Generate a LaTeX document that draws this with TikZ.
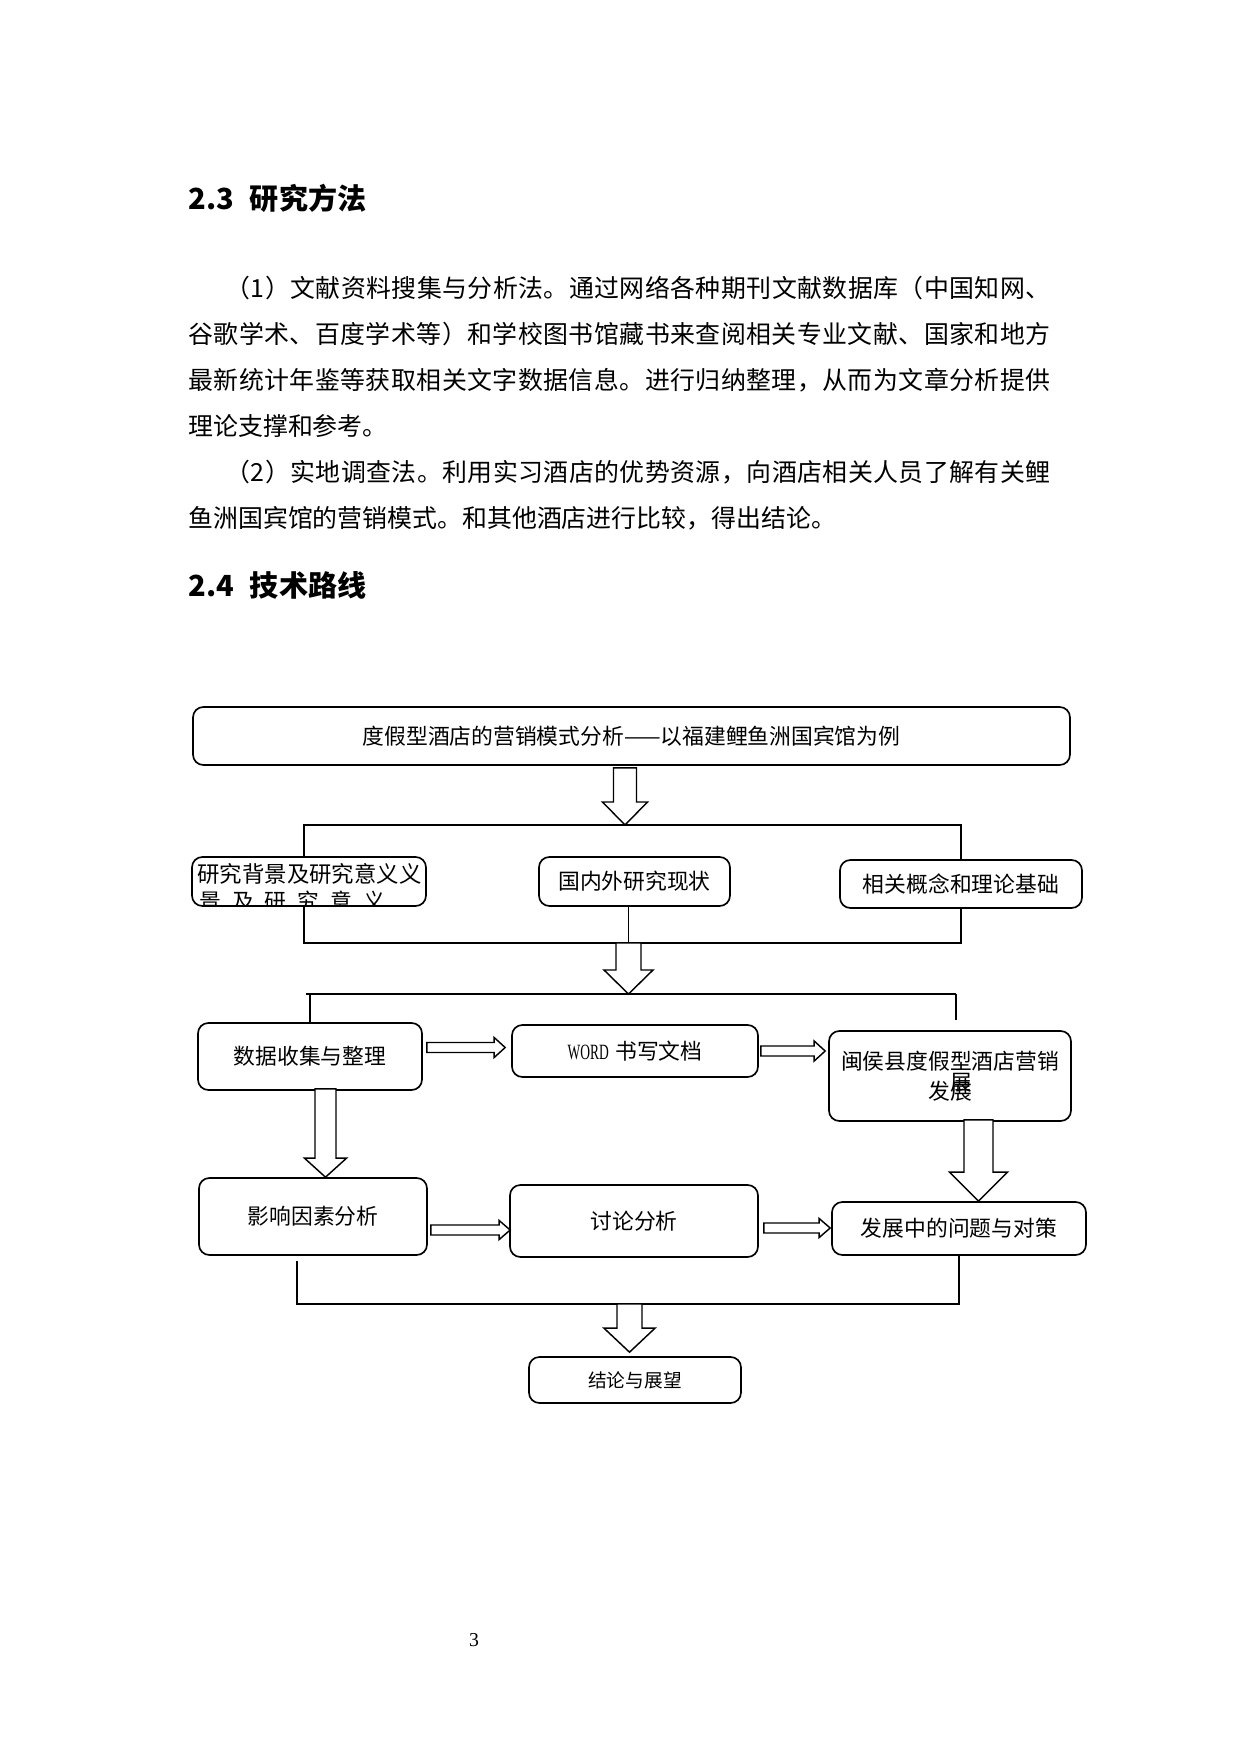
\documentclass[tikz,border=0pt]{standalone}
\usepackage{fontspec}
\setmainfont{Noto Sans CJK SC}
\newfontfamily\serifnum{Liberation Serif}
\usepackage{tikz}
\usetikzlibrary{calc}
\XeTeXinterchartoks 0 0 = {\hskip 0pt plus 1pt}
\newdimen\px
\px=0.16935mm
% hollow block arrows: from, to, half shaft, half head, head length
\newcommand\vblock[5]{%
	\coordinate (ba) at (#1);
	\coordinate (bb) at (#2);
	\coordinate (bt) at (ba |- bb);
	\draw[blockarrow] ($(ba)+(-#3,0)$) -- ($(bt)+(-#3,-#5)$) -- ($(bt)+(-#4,-#5)$) -- (bt)
		-- ($(bt)+(#4,-#5)$) -- ($(bt)+(#3,-#5)$) -- ($(ba)+(#3,0)$) -- cycle;
}
\newcommand\hblock[5]{%
	\coordinate (ba) at (#1);
	\coordinate (bb) at (#2);
	\coordinate (bt) at (ba -| bb);
	\draw[blockarrow] ($(ba)+(0,-#3)$) -- ($(bt)+(-#5,-#3)$) -- ($(bt)+(-#5,-#4)$) -- (bt)
		-- ($(bt)+(-#5,#4)$) -- ($(bt)+(-#5,#3)$) -- ($(ba)+(0,#3)$) -- cycle;
}
\newcommand\fullline[2]{{\XeTeXinterchartokenstate=1 \makebox[#1\px][s]{#2}}}

\begin{document}
\begin{tikzpicture}[x=\px, y=-\px,
		roundbox/.style={draw, line width=0.8pt, rounded corners=5pt, inner sep=0pt,
			align=center, font=\fontsize{10.5}{12.5}\selectfont},
		bodyline/.style={anchor=west, inner sep=0pt, font=\fontsize{12}{14}\selectfont},
		heading/.style={anchor=west, inner sep=0pt, font=\bfseries\fontsize{14}{16}\selectfont},
		link/.style={line width=0.7pt},
		blockarrow/.style={draw, fill=white, line width=0.7pt, line join=miter}]
	\useasboundingbox (0,0) rectangle (1240,1754);
	
	% text of the page
	\node[heading] (h23) at (188,198) {2.3\hspace{0.55em}研究方法};
	\node[bodyline] (l1) at (225,288) {\fullline{825}{（1）文献资料搜集与分析法。通过网络各种期刊文献数据库（中国知网、}};
	\node[bodyline] (l2) at (188,334) {\fullline{862}{谷歌学术、百度学术等）和学校图书馆藏书来查阅相关专业文献、国家和地方}};
	\node[bodyline] (l3) at (188,380) {\fullline{862}{最新统计年鉴等获取相关文字数据信息。进行归纳整理，从而为文章分析提供}};
	\node[bodyline] (l4) at (188,426) {理论支撑和参考。};
	\node[bodyline] (l5) at (225,472) {\fullline{825}{（2）实地调查法。利用实习酒店的优势资源，向酒店相关人员了解有关鲤}};
	\node[bodyline] (l6) at (188,518) {鱼洲国宾馆的营销模式。和其他酒店进行比较，得出结论。};
	\node[heading] (h24) at (188,585) {2.4\hspace{0.55em}技术路线};
	\node[font=\serifnum\fontsize{9.5}{11}\selectfont, inner sep=0pt] (pg) at (474,1640) {3};
	
	% title and first row
	\node[roundbox, minimum width=877\px, minimum height=58\px] (title) at (631.5,736)
		{度假型酒店的营销模式分析——以福建鲤鱼洲国宾馆为例};
	\node[roundbox, minimum width=234\px, minimum height=49\px] (b1) at (309,881.5) {};
	\begin{scope}
		\clip[rounded corners=5pt] (b1.south west) rectangle (b1.north east);
		\node[anchor=west, inner sep=0pt, font=\fontsize{10.8}{12}\selectfont] (b1a) at (197,874)
			{研究背景及研究意义义};
		\node[anchor=west, inner sep=0pt, font=\fontsize{10.5}{12}\selectfont] (b1b) at (199,901)
			{景\kern11\px 及\kern11\px 研\kern11\px 究\kern11\px 意\kern11\px 义};
	\end{scope}
	\node[roundbox, minimum width=191\px, minimum height=49\px] (b2) at (634.5,881.5) {国内外研究现状};
	\node[roundbox, minimum width=242\px, minimum height=48\px] (b3) at (961,884) {相关概念和理论基础};
	
	% second and third rows
	\node[roundbox, minimum width=224\px, minimum height=67\px] (d1) at (310,1056.5) {数据收集与整理};
	\node[roundbox, minimum width=246\px, minimum height=52\px] (d2) at (635,1051)
		{{\serifnum\scalebox{0.62}[1]{WORD}}\hspace{0.3em}书写文档};
	\node[roundbox, minimum width=242\px, minimum height=90\px] (d3) at (950,1076)
		{闽侯县度假型酒店营销\\发\rlap{\raisebox{9\px}{展}}展};
	\node[roundbox, minimum width=228\px, minimum height=77\px] (d4) at (313,1216.5) {影响因素分析};
	\node[roundbox, minimum width=248\px, minimum height=72\px] (d5) at (634,1221) {讨论分析};
	\node[roundbox, minimum width=254\px, minimum height=53\px] (d6) at (959,1228.5) {发展中的问题与对策};
	\node[roundbox, minimum width=212\px, minimum height=46\px, font=\fontsize{9}{11}\selectfont] (e1)
		at (635,1380) {结论与展望};
	
	% brackets
	\coordinate (j1) at (625,825);
	\coordinate (j2) at (628.5,943);
	\coordinate (j3) at (628.5,994);
	\coordinate (j4) at (629.5,1304);
	\coordinate (k1) at (956,1020);
	\draw[link] ($(b1.north)+(-5,0)$) |- (j1) -| (b3.north);
	\draw[link] ($(b1.south)+(-5,0)$) |- (j2) -| (b3.south);
	\draw[link] (b2.south -| j2) -- (j2);
	\draw[line width=1.3pt] ($(d1.north |- j3)+(-4,0)$) -- (k1 |- j3);
	\draw[link] (d1.north) -- (d1.north |- j3);
	\draw[link] (k1 |- j3) -- (k1);
	\draw[link] ($(d4.south)+(-16,5)$) |- (j4) -| (d6.south);
	
	% block arrows
	\vblock{$(title.south)+(-6.5,2)$}{j1}{11.5}{22.5}{23}
	\vblock{j2}{j3}{12.5}{24.5}{24}
	\vblock{$(d1.south)+(15.5,-2)$}{d4.north}{10.5}{21}{19}
	\vblock{$(d3.south)+(28.5,-2)$}{d6.north}{14.5}{29}{29}
	\vblock{j4}{$(e1.north)+(0,-4)$}{12.5}{25.5}{24}
	\hblock{$(d1.east)+(4,-9)$}{$(d2.west)+(-6,0)$}{5}{10}{11}
	\hblock{$(d2.east)+(2,0)$}{$(d3.west)+(-3,0)$}{5}{10}{11}
	\hblock{$(d4.east)+(3,13.5)$}{$(d5.west)+(1,0)$}{5}{9.5}{11}
	\hblock{$(d5.east)+(5,7)$}{$(d6.west)+(-1,0)$}{5}{9.5}{11}
\end{tikzpicture}
\end{document}
